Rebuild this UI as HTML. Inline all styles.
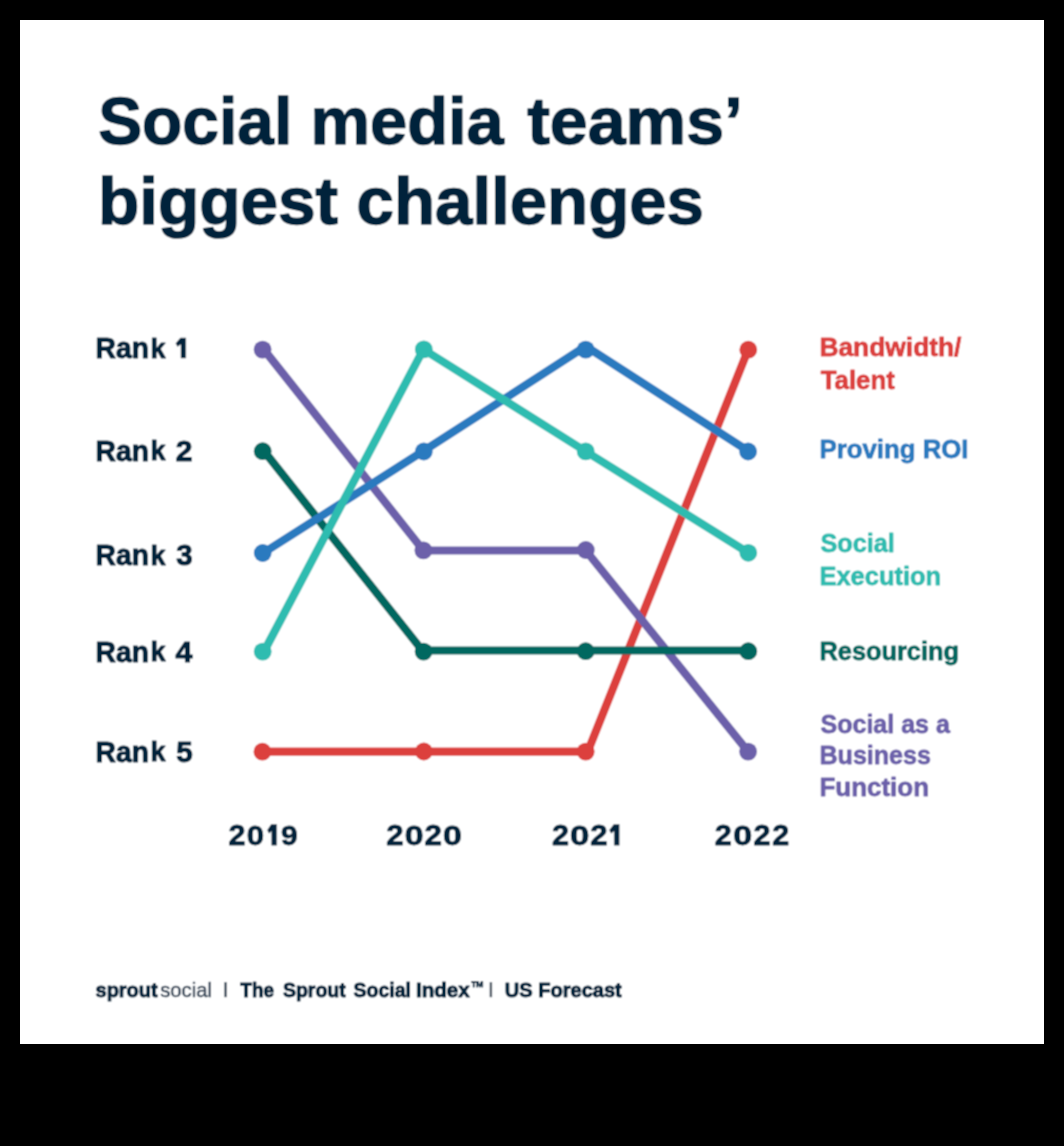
<!DOCTYPE html>
<html><head><meta charset="utf-8"><style>
html,body{margin:0;padding:0;background:#000;}
body{width:1064px;height:1146px;overflow:hidden;}
svg{display:block;}
text{font-family:"Liberation Sans",sans-serif;}
</style></head><body>
<svg width="1064" height="1146" viewBox="0 0 1064 1146">
<rect x="0" y="0" width="1064" height="1146" fill="#000"/>
<defs><filter id="soft" x="0" y="0" width="100%" height="100%"><feConvolveMatrix order="3" kernelMatrix="1 2 1 2 4 2 1 2 1" divisor="16" edgeMode="duplicate"/></filter></defs>
<rect x="20" y="20" width="1024" height="1024" fill="#fff"/>
<g filter="url(#soft)">
<rect x="20" y="20" width="1024" height="1024" fill="#fff"/>
<text transform="translate(98.15,143.80) scale(0.9982,1.0000)" font-size="66" font-weight="700" fill="#05243b" stroke="#05243b" stroke-width="1.4" stroke-linejoin="round">Social</text>
<text transform="translate(310.50,143.80) scale(1.0138,1.0000)" font-size="66" font-weight="700" fill="#05243b" stroke="#05243b" stroke-width="1.4" stroke-linejoin="round">media</text>
<text transform="translate(527.20,143.80) scale(1.0319,1.0000)" font-size="66" font-weight="700" fill="#05243b" stroke="#05243b" stroke-width="1.4" stroke-linejoin="round">teams’</text>
<text transform="translate(98.06,224.20) scale(1.0232,1.0000)" font-size="66" font-weight="700" fill="#05243b" stroke="#05243b" stroke-width="1.4" stroke-linejoin="round">biggest</text>
<text transform="translate(356.56,224.20) scale(1.0185,1.0000)" font-size="66" font-weight="700" fill="#05243b" stroke="#05243b" stroke-width="1.4" stroke-linejoin="round">challenges</text>
<text transform="translate(95.57,358.40) scale(0.9566,1.0000)" font-size="29.5" font-weight="700" fill="#05243b" stroke="#05243b" stroke-width="1.1" stroke-linejoin="round">Ran</text>
<text transform="translate(150.43,358.24) scale(0.9161,0.9289)" font-size="29.5" font-weight="700" fill="#05243b" stroke="#05243b" stroke-width="1.1" stroke-linejoin="round">k</text>
<polygon points="180.50,337.90 185.70,337.90 185.70,358.10 181.00,358.10 181.00,343.96 177.57,346.38 175.90,343.35" fill="#05243b" stroke="#05243b" stroke-width="0.4" stroke-linejoin="round"/>
<text transform="translate(95.57,460.50) scale(0.9566,1.0000)" font-size="29.5" font-weight="700" fill="#05243b" stroke="#05243b" stroke-width="1.1" stroke-linejoin="round">Ran</text>
<text transform="translate(150.43,460.33) scale(0.9161,0.9467)" font-size="29.5" font-weight="700" fill="#05243b" stroke="#05243b" stroke-width="1.1" stroke-linejoin="round">k</text>
<text transform="translate(175.79,460.50) scale(1.0164,1.0000)" font-size="29.5" font-weight="700" fill="#05243b" stroke="#05243b" stroke-width="1.1" stroke-linejoin="round">2</text>
<text transform="translate(95.57,565.40) scale(0.9566,1.0000)" font-size="29.5" font-weight="700" fill="#05243b" stroke="#05243b" stroke-width="1.1" stroke-linejoin="round">Ran</text>
<text transform="translate(150.43,565.23) scale(0.9161,0.9333)" font-size="29.5" font-weight="700" fill="#05243b" stroke="#05243b" stroke-width="1.1" stroke-linejoin="round">k</text>
<text transform="translate(176.35,565.40) scale(0.9968,1.0000)" font-size="29.5" font-weight="700" fill="#05243b" stroke="#05243b" stroke-width="1.1" stroke-linejoin="round">3</text>
<text transform="translate(95.57,661.50) scale(0.9566,1.0000)" font-size="29.5" font-weight="700" fill="#05243b" stroke="#05243b" stroke-width="1.1" stroke-linejoin="round">Ran</text>
<text transform="translate(150.43,661.34) scale(0.9161,0.9289)" font-size="29.5" font-weight="700" fill="#05243b" stroke="#05243b" stroke-width="1.1" stroke-linejoin="round">k</text>
<text transform="translate(175.60,661.50) scale(1.0328,1.0000)" font-size="29.5" font-weight="700" fill="#05243b" stroke="#05243b" stroke-width="1.1" stroke-linejoin="round">4</text>
<text transform="translate(95.57,761.50) scale(0.9566,1.0000)" font-size="29.5" font-weight="700" fill="#05243b" stroke="#05243b" stroke-width="1.1" stroke-linejoin="round">Ran</text>
<text transform="translate(150.43,761.34) scale(0.9161,0.9289)" font-size="29.5" font-weight="700" fill="#05243b" stroke="#05243b" stroke-width="1.1" stroke-linejoin="round">k</text>
<text transform="translate(176.30,761.50) scale(1.0000,1.0000)" font-size="29.5" font-weight="700" fill="#05243b" stroke="#05243b" stroke-width="1.1" stroke-linejoin="round">5</text>
<text transform="translate(228.38,844.91) scale(1.0361,0.9701)" font-size="29.5" font-weight="700" fill="#05243b" stroke="#05243b" stroke-width="0.9" stroke-linejoin="round">2</text>
<text transform="translate(246.81,844.68) scale(1.0533,0.9591)" font-size="29.5" font-weight="700" fill="#05243b" stroke="#05243b" stroke-width="0.9" stroke-linejoin="round">0</text>
<polygon points="271.20,824.50 276.60,824.50 276.60,845.20 271.70,845.20 271.70,830.71 269.05,833.19 267.50,830.09" fill="#05243b" stroke="#05243b" stroke-width="0.4" stroke-linejoin="round"/>
<text transform="translate(280.89,844.68) scale(1.0164,0.9591)" font-size="29.5" font-weight="700" fill="#05243b" stroke="#05243b" stroke-width="0.9" stroke-linejoin="round">9</text>
<text transform="translate(386.27,844.91) scale(1.0557,0.9701)" font-size="29.5" font-weight="700" fill="#05243b" stroke="#05243b" stroke-width="0.9" stroke-linejoin="round">2</text>
<text transform="translate(404.74,844.68) scale(1.1467,0.9591)" font-size="29.5" font-weight="700" fill="#05243b" stroke="#05243b" stroke-width="0.9" stroke-linejoin="round">0</text>
<text transform="translate(424.57,844.91) scale(1.0623,0.9701)" font-size="29.5" font-weight="700" fill="#05243b" stroke="#05243b" stroke-width="0.9" stroke-linejoin="round">2</text>
<text transform="translate(443.03,844.68) scale(1.1533,0.9591)" font-size="29.5" font-weight="700" fill="#05243b" stroke="#05243b" stroke-width="0.9" stroke-linejoin="round">0</text>
<text transform="translate(551.98,844.91) scale(1.0361,0.9701)" font-size="29.5" font-weight="700" fill="#05243b" stroke="#05243b" stroke-width="0.9" stroke-linejoin="round">2</text>
<text transform="translate(570.01,844.68) scale(1.1800,0.9591)" font-size="29.5" font-weight="700" fill="#05243b" stroke="#05243b" stroke-width="0.9" stroke-linejoin="round">0</text>
<text transform="translate(590.37,844.91) scale(1.0557,0.9701)" font-size="29.5" font-weight="700" fill="#05243b" stroke="#05243b" stroke-width="0.9" stroke-linejoin="round">2</text>
<polygon points="613.80,824.50 619.20,824.50 619.20,845.20 614.30,845.20 614.30,830.71 611.15,833.19 609.50,830.09" fill="#05243b" stroke="#05243b" stroke-width="0.4" stroke-linejoin="round"/>
<text transform="translate(714.78,844.91) scale(1.0361,0.9701)" font-size="29.5" font-weight="700" fill="#05243b" stroke="#05243b" stroke-width="0.9" stroke-linejoin="round">2</text>
<text transform="translate(733.24,844.68) scale(1.1533,0.9591)" font-size="29.5" font-weight="700" fill="#05243b" stroke="#05243b" stroke-width="0.9" stroke-linejoin="round">0</text>
<text transform="translate(753.48,844.91) scale(1.0361,0.9701)" font-size="29.5" font-weight="700" fill="#05243b" stroke="#05243b" stroke-width="0.9" stroke-linejoin="round">2</text>
<text transform="translate(772.28,844.91) scale(1.0361,0.9701)" font-size="29.5" font-weight="700" fill="#05243b" stroke="#05243b" stroke-width="0.9" stroke-linejoin="round">2</text>
<polyline points="262.6,751.7 423.8,751.7 587.7,751.7 748.2,349.6" fill="none" stroke="#dc3f3e" stroke-width="8.2" stroke-linejoin="round" stroke-linecap="round"/>
<circle cx="262.4" cy="751.7" r="8.9" fill="#dc3f3e"/>
<circle cx="423.85" cy="751.5" r="8.9" fill="#dc3f3e"/>
<circle cx="585.7" cy="751.6" r="8.9" fill="#dc3f3e"/>
<circle cx="748.3" cy="349.7" r="8.9" fill="#dc3f3e"/>
<polyline points="262.6,347.9 423.4,550.5 585.8,550.5 748.1,751.6" fill="none" stroke="#6c61aa" stroke-width="8.2" stroke-linejoin="round" stroke-linecap="round"/>
<circle cx="262.6" cy="349.6" r="8.9" fill="#6c61aa"/>
<circle cx="423.4" cy="550.4" r="8.9" fill="#6c61aa"/>
<circle cx="585.8" cy="550.0" r="8.9" fill="#6c61aa"/>
<circle cx="748.1" cy="751.6" r="8.9" fill="#6c61aa"/>
<polyline points="262.7,449.4 422.3,650.5 585.7,650.5 748.3,650.5" fill="none" stroke="#066760" stroke-width="8.2" stroke-linejoin="round" stroke-linecap="round"/>
<circle cx="262.7" cy="451.2" r="8.9" fill="#066760"/>
<circle cx="423.6" cy="651.6" r="8.9" fill="#066760"/>
<circle cx="585.7" cy="651.2" r="8.9" fill="#066760"/>
<circle cx="748.3" cy="651.2" r="8.9" fill="#066760"/>
<polyline points="262.6,553.4 423.8,450.8 585.7,346.3 748.2,451.0" fill="none" stroke="#2a7abf" stroke-width="8.2" stroke-linejoin="round" stroke-linecap="round"/>
<circle cx="262.7" cy="553.0" r="8.9" fill="#2a7abf"/>
<circle cx="423.8" cy="451.5" r="8.9" fill="#2a7abf"/>
<circle cx="585.7" cy="349.6" r="8.9" fill="#2a7abf"/>
<circle cx="748.1" cy="451.5" r="8.9" fill="#2a7abf"/>
<polyline points="262.7,654.0 423.4,349.4 585.7,451.4 748.3,552.8" fill="none" stroke="#2fbcb0" stroke-width="8.2" stroke-linejoin="round" stroke-linecap="round"/>
<circle cx="262.7" cy="651.6" r="8.9" fill="#2fbcb0"/>
<circle cx="423.8" cy="349.4" r="8.9" fill="#2fbcb0"/>
<circle cx="585.7" cy="451.4" r="8.9" fill="#2fbcb0"/>
<circle cx="748.3" cy="552.8" r="8.9" fill="#2fbcb0"/>
<text transform="translate(819.40,356.00) scale(1.0387,1.0000)" font-size="25.4" font-weight="700" fill="#dc3f3e" stroke="#dc3f3e" stroke-width="0.8" stroke-linejoin="round">Bandwidth/</text>
<text transform="translate(820.70,388.90) scale(1.0164,1.0000)" font-size="25.4" font-weight="700" fill="#dc3f3e" stroke="#dc3f3e" stroke-width="0.8" stroke-linejoin="round">Talent</text>
<text transform="translate(819.43,457.50) scale(1.0163,1.0000)" font-size="25.4" font-weight="700" fill="#2a7abf" stroke="#2a7abf" stroke-width="0.8" stroke-linejoin="round">Proving ROI</text>
<text transform="translate(820.45,551.60) scale(0.9939,1.0000)" font-size="25.4" font-weight="700" fill="#2fbcb0" stroke="#2fbcb0" stroke-width="0.8" stroke-linejoin="round">Social</text>
<text transform="translate(819.45,584.80) scale(1.0025,1.0000)" font-size="25.4" font-weight="700" fill="#2fbcb0" stroke="#2fbcb0" stroke-width="0.8" stroke-linejoin="round">Execution</text>
<text transform="translate(819.45,659.50) scale(0.9996,1.0000)" font-size="25.4" font-weight="700" fill="#066760" stroke="#066760" stroke-width="0.8" stroke-linejoin="round">Resourcing</text>
<text transform="translate(820.45,732.90) scale(0.9863,1.0000)" font-size="25.4" font-weight="700" fill="#6c61aa" stroke="#6c61aa" stroke-width="0.8" stroke-linejoin="round">Social as a</text>
<text transform="translate(819.47,764.30) scale(0.9874,1.0000)" font-size="25.4" font-weight="700" fill="#6c61aa" stroke="#6c61aa" stroke-width="0.8" stroke-linejoin="round">Business</text>
<text transform="translate(819.42,796.20) scale(1.0224,1.0000)" font-size="25.4" font-weight="700" fill="#6c61aa" stroke="#6c61aa" stroke-width="0.8" stroke-linejoin="round">Function</text>
<text transform="translate(95.56,996.70) scale(0.9502,1.0000)" font-size="21" font-weight="700" fill="#05243b" stroke="#05243b" stroke-width="1.0" stroke-linejoin="round">sprout</text>
<text transform="translate(160.16,996.70) scale(0.9646,1.0000)" font-size="21" font-weight="400" fill="#3d4d5e" stroke="#3d4d5e" stroke-width="0.6" stroke-linejoin="round">social</text>
<rect x="224.3" y="982.2" width="2.5" height="15" fill="#3f4d5c"/>
<text transform="translate(240.34,997.40) scale(0.9521,1.0000)" font-size="19.9" font-weight="700" fill="#05243b" stroke="#05243b" stroke-width="1.0" stroke-linejoin="round">The</text>
<text transform="translate(282.90,997.40) scale(0.9798,1.0000)" font-size="19.9" font-weight="700" fill="#05243b" stroke="#05243b" stroke-width="1.0" stroke-linejoin="round">Sprout</text>
<text transform="translate(353.60,997.40) scale(0.9784,1.0000)" font-size="19.9" font-weight="700" fill="#05243b" stroke="#05243b" stroke-width="1.0" stroke-linejoin="round">Social</text>
<text transform="translate(415.92,997.40) scale(1.0350,1.0000)" font-size="19.9" font-weight="700" fill="#05243b" stroke="#05243b" stroke-width="1.0" stroke-linejoin="round">Index</text>
<text transform="translate(470.40,993.90) scale(0.9917,1.2800)" font-size="14" font-weight="700" fill="#05243b" stroke="#05243b" stroke-width="0.6" stroke-linejoin="round">™</text>
<rect x="489.7" y="982.2" width="2.4" height="15" fill="#3f4d5c"/>
<text transform="translate(504.84,997.40) scale(1.0073,1.0000)" font-size="19.9" font-weight="700" fill="#05243b" stroke="#05243b" stroke-width="1.0" stroke-linejoin="round">US Forecast</text>
</g>
</svg>
</body></html>
